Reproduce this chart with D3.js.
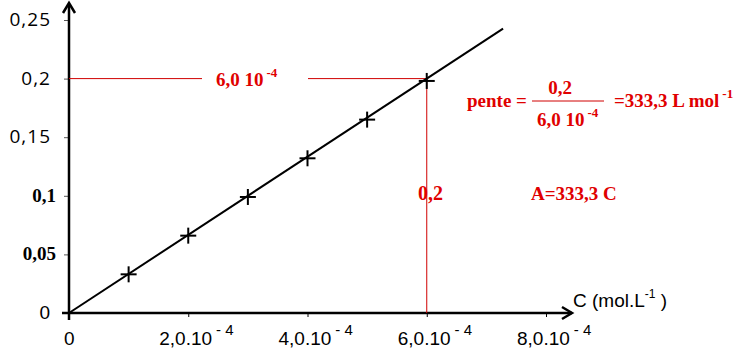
<!doctype html>
<html lang="fr">
<head>
<meta charset="utf-8">
<title>A = f(C)</title>
<script src="https://cdn.jsdelivr.net/npm/d3@7"></script>
<style>
  body { margin: 0; background: #fff; }
  svg { display: block; }
  .red { fill: #e00000; font-family: "Liberation Serif", serif; font-weight: bold; font-size: 19px; }
</style>
</head>
<body>
<svg id="chart" width="741" height="354"></svg>
<script>
// concentrations (mol/L) and absorbance readings
var conc = [1e-4, 2e-4, 3e-4, 4e-4, 5e-4, 6e-4];
var absorb = [0.033, 0.066, 0.099, 0.132, 0.165, 0.198];
var xTicks = [2e-4, 4e-4, 6e-4, 8e-4];
var xTickLabels = ["2,0.10", "4,0.10", "6,0.10", "8,0.10"];
var yTicks = [0.05, 0.1, 0.15, 0.2, 0.25];
var yTickLabels = ["0,05", "0,1", "0,15", "0,2", "0,25"];
var slope = 333.3;
var lineEnd = 7.28e-4;
var readX = 6e-4, readY = 0.2;

var svg = d3.select("#chart");
var x = d3.scaleLinear().domain([0, 8e-4]).range([69, 546]);
var y = d3.scaleLinear().domain([0, 0.25]).range([313, 20]);

// x axis
var xAxis = d3.axisBottom(x).tickValues(xTicks).tickSize(4).tickFormat("");
var gx = svg.append("g").attr("transform", "translate(0," + y(0) + ")").call(xAxis);
gx.select(".domain").remove();
gx.selectAll(".tick line").attr("stroke", "#000").attr("stroke-width", 1);
svg.append("line").attr("x1", 62).attr("x2", 572).attr("y1", y(0)).attr("y2", y(0))
  .attr("stroke", "#000").attr("stroke-width", 2.5);
svg.append("path").attr("d", "M562," + (y(0) - 6) + " L572," + y(0) + " L562," + (y(0) + 6))
  .attr("fill", "none").attr("stroke", "#000").attr("stroke-width", 2.5);
svg.append("line").attr("x1", x(0)).attr("x2", x(0)).attr("y1", y(0)).attr("y2", 320)
  .attr("stroke", "#000").attr("stroke-width", 2);

var xl = svg.selectAll("text.xl").data(xTicks).enter().append("text")
  .attr("class", "xl")
  .attr("x", function(d) { return x(d) - 29; })
  .attr("y", 345)
  .style("font-family", "Liberation Sans, Arial, sans-serif")
  .style("font-size", "19px");
xl.append("tspan").text(function(d, i) { return xTickLabels[i]; });
xl.append("tspan").attr("dx", 4).attr("dy", -10).style("font-size", "15px").text("- 4");

svg.append("text").attr("x", 64).attr("y", 345).text("0")
  .style("font-family", "Liberation Sans, Arial, sans-serif").style("font-size", "19px");

var xt = svg.append("text").attr("x", 573).attr("y", 307)
  .style("font-family", "Liberation Sans, Arial, sans-serif").style("font-size", "19px");
xt.append("tspan").text("C (mol.L");
xt.append("tspan").attr("dy", -9).style("font-size", "12px").text("-1");
xt.append("tspan").attr("dy", 9).text(" )");

// y axis
var yAxis = d3.axisLeft(y).tickValues(yTicks).tickSize(5).tickFormat("");
var gy = svg.append("g").attr("transform", "translate(" + x(0) + ",0)").call(yAxis);
gy.select(".domain").remove();
gy.selectAll(".tick line").attr("stroke", "#555").attr("stroke-width", 1);
svg.append("line").attr("x1", x(0)).attr("x2", x(0)).attr("y1", 320).attr("y2", 4)
  .attr("stroke", "#000").attr("stroke-width", 2.5);
svg.append("path").attr("d", "M" + (x(0) - 6) + ",13 L" + x(0) + ",3 L" + (x(0) + 6) + ",13")
  .attr("fill", "none").attr("stroke", "#000").attr("stroke-width", 2.5);

function serifTick(d) { return d === 0.1 || d === 0.05; }
svg.selectAll("text.yl").data(yTicks).enter().append("text")
  .attr("class", "yl")
  .attr("x", function(d) { return serifTick(d) ? 56 : 51; })
  .attr("y", function(d) { return y(d) + 6; })
  .attr("text-anchor", "end")
  .style("font-family", function(d) { return serifTick(d) ? "Liberation Serif, serif" : "Open Sans, sans-serif"; })
  .style("font-weight", function(d) { return serifTick(d) ? "bold" : "normal"; })
  .style("font-size", "19px")
  .style("letter-spacing", function(d) { return serifTick(d) ? "0px" : "1px"; })
  .text(function(d, i) { return yTickLabels[i]; });
svg.append("text").attr("x", 50).attr("y", y(0) + 6).attr("text-anchor", "end").text("0")
  .style("font-family", "Liberation Sans, Arial, sans-serif").style("font-size", "19px");

// red reading lines
var red = "#d00000";
svg.append("line").attr("x1", x(0)).attr("x2", 202).attr("y1", y(readY)).attr("y2", y(readY))
  .attr("stroke", red).attr("stroke-width", 1);
svg.append("line").attr("x1", 308).attr("x2", x(readX)).attr("y1", y(readY)).attr("y2", y(readY))
  .attr("stroke", red).attr("stroke-width", 1);
svg.append("line").attr("x1", x(readX)).attr("x2", x(readX)).attr("y1", y(readY)).attr("y2", y(0))
  .attr("stroke", red).attr("stroke-width", 1);

var t1 = svg.append("text").attr("class", "red").attr("x", 216).attr("y", 86);
t1.append("tspan").text("6,0 10");
t1.append("tspan").attr("dx", 3).attr("dy", -9).style("font-size", "13px").text("-4");

svg.append("text").attr("class", "red").attr("x", 418).attr("y", 200).style("font-size", "20px").text("0,2");

// fitted line
var line = d3.line().x(function(d) { return x(d); }).y(function(d) { return y(slope * d); });
svg.append("path").attr("d", line([0, lineEnd]))
  .attr("fill", "none").attr("stroke", "#000").attr("stroke-width", 2);

// measured points as crosses
var pts = svg.selectAll("g.pt").data(conc).enter().append("g")
  .attr("class", "pt")
  .attr("transform", function(d, i) { return "translate(" + x(d) + "," + y(absorb[i]) + ")"; });
pts.append("line").attr("x1", -8).attr("x2", 8).attr("stroke", "#000").attr("stroke-width", 2);
pts.append("line").attr("y1", -8).attr("y2", 8).attr("stroke", "#000").attr("stroke-width", 2);

// slope annotation
svg.append("text").attr("class", "red").attr("x", 467).attr("y", 107).text("pente =");
svg.append("line").attr("x1", 532).attr("x2", 604).attr("y1", 101).attr("y2", 101)
  .attr("stroke", red).attr("stroke-width", 1);
svg.append("text").attr("class", "red").attr("x", 560).attr("y", 94).attr("text-anchor", "middle").text("0,2");
var t2 = svg.append("text").attr("class", "red").attr("x", 537).attr("y", 126);
t2.append("tspan").text("6,0 10");
t2.append("tspan").attr("dx", 3).attr("dy", -9).style("font-size", "13px").text("-4");
var t3 = svg.append("text").attr("class", "red").attr("x", 614).attr("y", 107);
t3.append("tspan").text("=333,3 L mol");
t3.append("tspan").attr("dx", 3).attr("dy", -9).style("font-size", "13px").text("-1");

svg.append("text").attr("class", "red").attr("x", 531).attr("y", 200).text("A=333,3 C");
</script>
</body>
</html>
